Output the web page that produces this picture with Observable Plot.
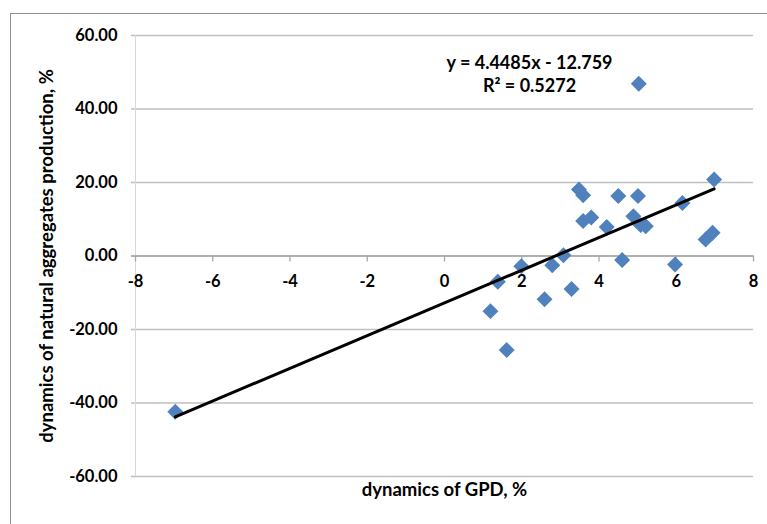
<!DOCTYPE html>
<html>
<head>
<meta charset="utf-8">
<script src="https://cdn.jsdelivr.net/npm/d3@7"></script>
<script src="https://cdn.jsdelivr.net/npm/@observablehq/plot@0.6"></script>
<style>
  html, body { margin: 0; padding: 0; background: #fff; }
  #wrap { position: relative; width: 767px; height: 524px; }
  #border { position: absolute; left: 10px; top: 13px; right: 0; bottom: 0;
            border-top: 1.5px solid #8f8f8f; border-left: 1.5px solid #8f8f8f; pointer-events: none; }
</style>
</head>
<body>
<div id="wrap"><div id="border"></div></div>
<script>
// GDP dynamics, %
const gdp  = [6.98, 3.48, 3.59, 4.50, 5.01, 6.16, 3.59, 3.80, 4.20, 4.89, 5.08, 5.21, 6.76, 6.94,
              3.08, 2.79, 1.99, 4.60, 5.97, 1.38, 3.29, 2.59, 1.19, 1.61, 5.03, -6.97];
// natural aggregates production dynamics, %
const prod = [20.8, 18.1, 16.5, 16.3, 16.3, 14.4, 9.5, 10.5, 7.9, 10.8, 8.4, 8.1, 4.5, 6.3,
              0.2, -2.5, -2.8, -1.1, -2.3, -7.0, -9.0, -11.8, -15.0, -25.6, 46.9, -42.4];
const xTicks = [-8, -6, -4, -2, 0, 2, 4, 6, 8];
const yTicks = [-60, -40, -20, 0, 20, 40, 60];
const slope = 4.4485, intercept = -12.759, r2 = 0.5272;
const xLabel = "dynamics of GPD, %";
const yLabel = "dynamics of natural aggregates production, %";

const points = gdp.map((x, i) => ({x, y: prod[i]}));
const [xmin, xmax] = d3.extent(gdp);
const trend = [xmin, xmax].map(x => ({x, y: slope * x + intercept}));
const eq = `y = ${slope}x - ${Math.abs(intercept)}\nR² = ${r2}`;

const font = "Lato, 'Open Sans', sans-serif";
const chart = Plot.plot({
  width: 767, height: 524,
  marginLeft: 135, marginRight: 14, marginTop: 35, marginBottom: 48,
  style: {fontFamily: font, fontSize: "16px", fontWeight: "bold", color: "#000", background: "transparent"},
  x: {domain: [-8, 8], axis: null},
  y: {domain: [-60, 60], axis: null},
  marks: [
    Plot.ruleY(yTicks, {stroke: "#bfbfbf", strokeWidth: 1.3, insetLeft: -4}),
    Plot.ruleX([-8], {stroke: "#d9d9d9", strokeWidth: 1}),
    Plot.ruleY([0], {stroke: "#a6a6a6", strokeWidth: 1.3, insetLeft: -4}),
    Plot.ruleX(xTicks, {x: d => d, y1: d => 0, y2: d => 0, insetBottom: -6, stroke: "#a6a6a6", strokeWidth: 1.3}),
    Plot.axisY(yTicks, {tickSize: 0, tickPadding: 18, tickFormat: d => d.toFixed(2), label: null,
                        fontSize: 16.5, fontWeight: "bold", fill: "#000"}),
    Plot.text(xTicks, {x: d => d, y: d => 0, dy: 26, text: d => String(d), fontSize: 16.5, fontWeight: "bold", fill: "#000"}),
    Plot.dot(points, {x: "x", y: "y", symbol: "diamond2", r: 7.2, fill: "#4F81BD", stroke: "none"}),
    Plot.line(trend, {x: "x", y: "y", stroke: "#000", strokeWidth: 3}),
    Plot.text([eq], {frameAnchor: "top", dx: 85, dy: 38, lineAnchor: "middle", lineHeight: 1.28,
                     fontSize: 18, fontWeight: "bold", fill: "#000"}),
    Plot.text([xLabel], {frameAnchor: "bottom", textAnchor: "middle", dy: 19, fontSize: 18.5, fontWeight: "bold", fill: "#000"}),
    Plot.text([yLabel], {frameAnchor: "left", textAnchor: "middle", dx: -88, rotate: -90, fontSize: 18.5, fontWeight: "bold", fill: "#000"})
  ]
});
document.getElementById("wrap").prepend(chart);
</script>
</body>
</html>
